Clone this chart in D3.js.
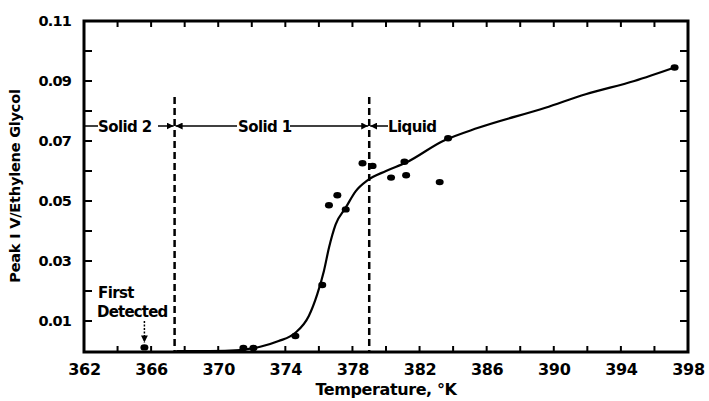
<!DOCTYPE html>
<html><head><meta charset="utf-8">
<script src="https://cdn.jsdelivr.net/npm/d3@7"></script>
<style>body{margin:0;background:#fff}svg{display:block}text{font-family:"DejaVu Sans",sans-serif;font-weight:bold;fill:#000}</style>
</head><body><svg id="c" width="709" height="401"></svg>
<script>
// Data
const pointTemps = [365.6, 371.5, 372.1, 374.6, 376.2, 376.6, 377.1, 377.6, 378.6, 379.2, 380.3, 381.2, 381.1, 383.2, 383.7, 397.2];
const pointValues = [0.0012, 0.001, 0.001, 0.005, 0.022, 0.0486, 0.0519, 0.0472, 0.0626, 0.0617, 0.0578, 0.0586, 0.0631, 0.0563, 0.0709, 0.0945];
const curveTemps = [367.5, 369.5, 371.3, 372.5, 373.6, 374.6, 375.4, 375.9, 376.3, 376.6, 377.0, 377.6, 378.2, 378.9, 380.0, 381.2, 383.4, 385.5, 389.5, 391.9, 394.8, 397.2];
const curveValues = [0.0, 0.0, 0.0003, 0.0014, 0.0033, 0.0061, 0.0117, 0.0189, 0.0267, 0.0344, 0.0422, 0.0478, 0.0533, 0.0569, 0.0600, 0.0628, 0.0700, 0.0744, 0.0811, 0.0856, 0.0900, 0.0945];
const phaseBoundaries = [367.4, 379.0];
const xTickLabels = [362, 366, 370, 374, 378, 382, 386, 390, 394, 398];
const yTickLabels = [0.01, 0.03, 0.05, 0.07, 0.09, 0.11];
const firstDetected = {t: 365.6, v: 0.0012};

const svg = d3.select("#c");
const L = 84, R = 688, T = 21, B = 351;
const x = d3.scaleLinear().domain([362, 398]).range([L, R]);
const y = d3.scaleLinear().domain([0, 0.11]).range([B, T]);

svg.append("defs").append("marker").attr("id","ah").attr("viewBox","0 0 10 10")
  .attr("refX",10).attr("refY",5).attr("markerWidth",7).attr("markerHeight",7)
  .attr("markerUnits","userSpaceOnUse").attr("orient","auto-start-reverse")
  .append("path").attr("d","M0,0L10,5L0,10z").attr("fill","#000");

// ticks
const xMinor = d3.range(362, 398.01, 2);
const yMinor = d3.range(0.01, 0.1101, 0.01);
const tk = svg.append("g").attr("stroke","#000").attr("stroke-width",2);
xMinor.forEach(t => {
  tk.append("line").attr("x1",x(t)).attr("x2",x(t)).attr("y1",B+1).attr("y2",B-5);
  tk.append("line").attr("x1",x(t)).attr("x2",x(t)).attr("y1",T).attr("y2",T+6);
});
yMinor.forEach(v => {
  tk.append("line").attr("x1",L).attr("x2",L+8).attr("y1",y(v)).attr("y2",y(v));
  tk.append("line").attr("x1",R).attr("x2",R-8).attr("y1",y(v)).attr("y2",y(v));
});

// frame
svg.append("rect").attr("x",L).attr("y",T).attr("width",R-L).attr("height",B+1-T)
  .attr("fill","none").attr("stroke","#000").attr("stroke-width",3);

// axes labels via d3 axis (labels only)
const xa = svg.append("g").attr("transform",`translate(0,${B+1})`)
  .call(d3.axisBottom(x).tickValues(xTickLabels).tickSize(0).tickPadding(12).tickFormat(d3.format("d")));
xa.select(".domain").remove();
xa.selectAll("text").attr("font-size",16).attr("font-family","DejaVu Sans").attr("font-weight","bold").attr("letter-spacing",-0.3);
const ya = svg.append("g").attr("transform",`translate(${L},0)`)
  .call(d3.axisLeft(y).tickValues(yTickLabels).tickSize(0).tickPadding(13).tickFormat(d => d3.format(".2f")(d)));
ya.select(".domain").remove();
ya.selectAll("text").attr("font-size",14.5).attr("font-family","DejaVu Sans").attr("font-weight","bold").attr("letter-spacing",-0.8);

svg.append("text").attr("x",(L+R)/2).attr("y",395).attr("text-anchor","middle").attr("font-size",16).attr("letter-spacing",-0.4).text("Temperature, °K");
svg.append("text").attr("transform",`translate(20,186) rotate(-90)`).attr("text-anchor","middle").attr("font-size",14.5).attr("letter-spacing",-0.2).text("Peak I V/Ethylene Glycol");

// phase boundaries
phaseBoundaries.forEach(t => {
  svg.append("line").attr("x1",x(t)).attr("x2",x(t)).attr("y1",97).attr("y2",B)
    .attr("stroke","#000").attr("stroke-width",2.5).attr("stroke-dasharray","7,4");
});

// phase annotations
const ay = 126;
const fs = 15;
const ann = svg.append("g");
ann.append("line").attr("x1",L).attr("x2",98).attr("y1",ay).attr("y2",ay).attr("stroke","#000").attr("stroke-width",1.5);
ann.append("text").attr("x",98).attr("y",ay+5.5).attr("font-size",fs).attr("letter-spacing",-0.6).text("Solid 2");
ann.append("line").attr("x1",158).attr("x2",x(phaseBoundaries[0])-1).attr("y1",ay).attr("y2",ay).attr("stroke","#000").attr("stroke-width",1.5).attr("marker-end","url(#ah)");
ann.append("line").attr("x1",237).attr("x2",x(phaseBoundaries[0])+1).attr("y1",ay).attr("y2",ay).attr("stroke","#000").attr("stroke-width",1.5).attr("marker-end","url(#ah)");
ann.append("text").attr("x",238).attr("y",ay+5.5).attr("font-size",fs).attr("letter-spacing",-0.6).text("Solid 1");
ann.append("line").attr("x1",290).attr("x2",x(phaseBoundaries[1])-1).attr("y1",ay).attr("y2",ay).attr("stroke","#000").attr("stroke-width",1.5).attr("marker-end","url(#ah)");
ann.append("line").attr("x1",388).attr("x2",x(phaseBoundaries[1])+1).attr("y1",ay).attr("y2",ay).attr("stroke","#000").attr("stroke-width",1.5).attr("marker-end","url(#ah)");
ann.append("text").attr("x",388).attr("y",ay+5.5).attr("font-size",fs).attr("letter-spacing",-0.6).text("Liquid");

// first detected
ann.append("text").attr("x",98).attr("y",298).attr("font-size",fs).attr("letter-spacing",-0.6).text("First");
ann.append("text").attr("x",97).attr("y",317).attr("font-size",fs).attr("letter-spacing",-0.8).text("Detected");
ann.append("line").attr("x1",x(firstDetected.t)).attr("x2",x(firstDetected.t)).attr("y1",321).attr("y2",y(firstDetected.v)-5)
  .attr("stroke","#000").attr("stroke-width",1.5).attr("stroke-dasharray","2,1.5").attr("marker-end","url(#ah)");

// curve
const curveData = curveTemps.map((t,i)=>[t,curveValues[i]]);
svg.append("path").datum(curveData)
  .attr("d", d3.line().x(d=>x(d[0])).y(d=>y(d[1])).curve(d3.curveMonotoneX))
  .attr("fill","none").attr("stroke","#000").attr("stroke-width",2.2);

// points
svg.append("g").selectAll("ellipse").data(pointTemps.map((t,i)=>[t,pointValues[i]]))
  .join("ellipse").attr("cx",d=>x(d[0])).attr("cy",d=>y(d[1])).attr("rx",4).attr("ry",3.2).attr("fill","#000");
</script></body></html>
